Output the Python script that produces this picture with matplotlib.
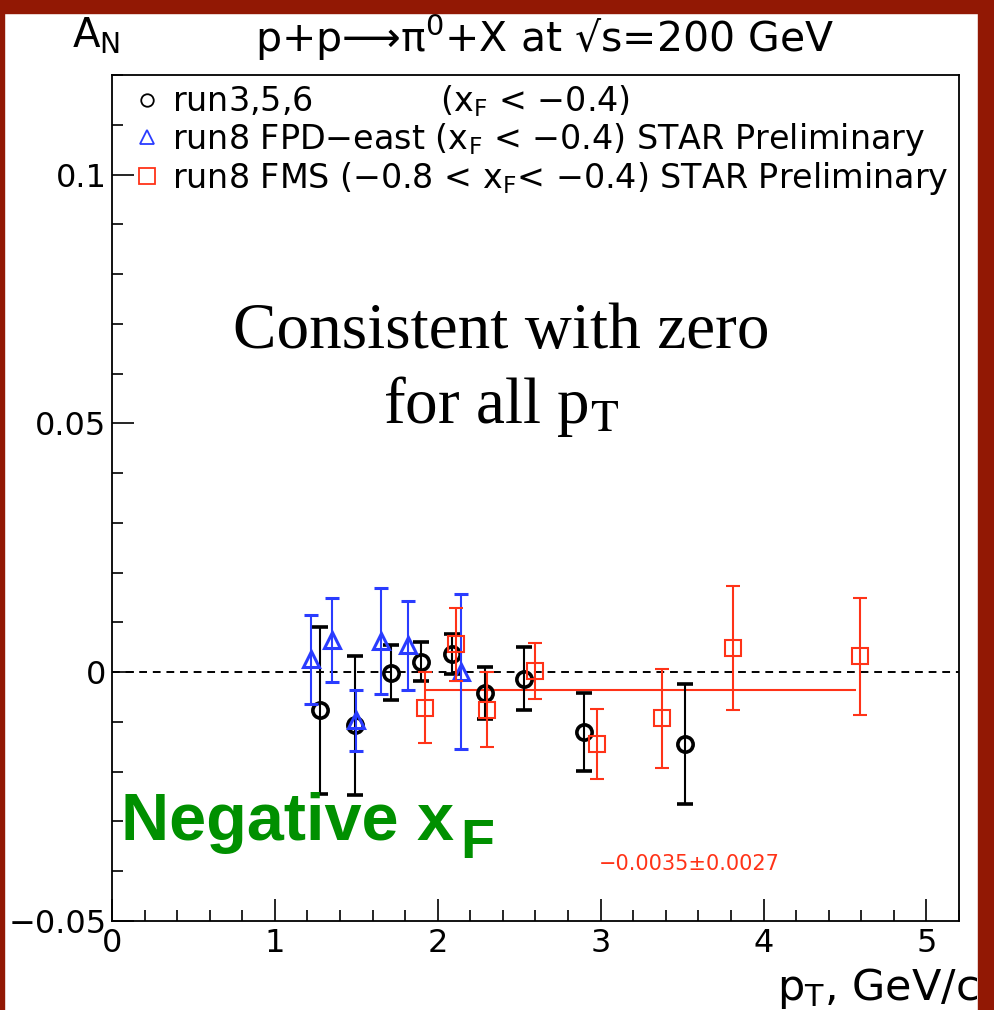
import matplotlib
matplotlib.use('Agg')
import matplotlib.pyplot as plt
from matplotlib.lines import Line2D
from matplotlib.patches import Rectangle
from matplotlib.ticker import MultipleLocator, FixedLocator

# run3,5,6 (x_F < -0.4)
pt_run356 = [1.28, 1.49, 1.71, 1.90, 2.09, 2.29, 2.53, 2.90, 3.52]
an_run356 = [-0.0077, -0.0107, -0.0001, 0.0021, 0.0036, -0.0042, -0.0013, -0.0120, -0.0144]
err_run356 = [0.0168, 0.0139, 0.0055, 0.0039, 0.0040, 0.0053, 0.0064, 0.0078, 0.0120]

# run8 FPD-east (x_F < -0.4)
pt_fpd = [1.22, 1.35, 1.495, 1.65, 1.82, 2.14]
an_fpd = [0.0026, 0.0065, -0.0097, 0.0063, 0.0054, 0.0001]
err_fpd = [0.0089, 0.0085, 0.0061, 0.0106, 0.0090, 0.0156]

# run8 FMS (-0.8 < x_F < -0.4)
pt_fms = [1.92, 2.11, 2.30, 2.595, 2.98, 3.376, 3.81, 4.59]
an_fms = [-0.0071, 0.0056, -0.0075, 0.0002, -0.0144, -0.0093, 0.0048, 0.0032]
err_fms = [0.0071, 0.0073, 0.0075, 0.0056, 0.0070, 0.0099, 0.0125, 0.0118]

# constant fit to FMS points
fit_value = -0.0035
fit_error = 0.0027
fit_range = [1.92, 4.57]

labels = ["run3,5,6            (x$_\\mathrm{F}$ < \u22120.4)",
          "run8 FPD\u2212east (x$_\\mathrm{F}$ < \u22120.4) STAR Preliminary",
          "run8 FMS (\u22120.8 < x$_\\mathrm{F}$< \u22120.4) STAR Preliminary"]

xticks = [0, 1, 2, 3, 4, 5]
yticks = [-0.05, 0, 0.05, 0.1]
yticklabels = ["\u22120.05", "0", "0.05", "0.1"]

black = "black"
blue = "#2a3cff"
red = "#ff3318"
green = "#009000"
border = "#921804"

plt.rcParams['font.family'] = ['DejaVu Sans']
plt.rcParams['mathtext.fontset'] = 'dejavusans'

fig = plt.figure(figsize=(9.95, 10.1), dpi=100)
ax = fig.add_axes([112/995, 89/1010, 847/995, 846/1010])

ax.axhline(0, color="black", ls=(0, (4, 3)), lw=1.4, zorder=1)
ax.hlines(fit_value, fit_range[0], fit_range[1], color=red, lw=1.5, zorder=2)

ax.errorbar(pt_run356, an_run356, yerr=err_run356, fmt='o', mfc='none', mec=black,
            ecolor=black, ms=11, mew=2.6, elinewidth=1.5, capsize=6, capthick=1.5, zorder=3)
ax.errorbar(pt_fpd, an_fpd, yerr=err_fpd, fmt='^', mfc='none', mec=blue,
            ecolor=blue, ms=12, mew=2.2, elinewidth=1.5, capsize=5, capthick=1.5, zorder=4)
ax.errorbar(pt_fms, an_fms, yerr=err_fms, fmt='s', mfc='none', mec=red,
            ecolor=red, ms=11, mew=1.5, elinewidth=1.5, capsize=5, capthick=1.5, zorder=5)

ax.set_xlim(0, 5.2)
ax.set_ylim(-0.05, 0.12)
ax.xaxis.set_major_locator(FixedLocator(xticks))
ax.set_xticklabels([str(v) for v in xticks])
ax.xaxis.set_minor_locator(MultipleLocator(0.2))
ax.yaxis.set_major_locator(FixedLocator(yticks))
ax.set_yticklabels(yticklabels)
ax.yaxis.set_minor_locator(MultipleLocator(0.01))
ax.tick_params(which='major', direction='in', length=16, width=1.2, labelsize=23,
               top=False, right=False)
ax.tick_params(axis='x', which='major', pad=5)
ax.tick_params(axis='y', which='major', pad=4)
ax.tick_params(which='minor', direction='in', length=8, width=1.2, top=False, right=False)
for s in ax.spines.values():
    s.set_linewidth(1.3)

handles = [Line2D([], [], ls='none', marker='o', mfc='none', mec=black, ms=9, mew=1.3),
           Line2D([], [], ls='none', marker='^', mfc='none', mec=blue, ms=10, mew=1.3),
           Line2D([], [], ls='none', marker='s', mfc='none', mec=red, ms=12, mew=1.3)]
ax.legend(handles, labels, loc='upper left', bbox_to_anchor=(0.0295, 0.99), frameon=False,
          fontsize=24, handlelength=0.6, handletextpad=0.45, labelspacing=0.06,
          borderaxespad=0, borderpad=0)

ax.text(0.459, 0.677, "Consistent with zero", transform=ax.transAxes, ha='center',
        va='baseline', fontsize=47, family='Liberation Serif')
ax.text(0.459, 0.589, "for all p$_\\mathrm{T}$", transform=ax.transAxes, ha='center',
        va='baseline', fontsize=47, family='Liberation Serif', math_fontfamily='stix')
ax.text(0.011, 0.0957, "Negative x", transform=ax.transAxes, ha='left',
        va='baseline', fontsize=48, fontweight='bold', color=green, family='Liberation Sans')
ax.text(0.411, 0.0745, "F", transform=ax.transAxes, ha='left',
        va='baseline', fontsize=40, fontweight='bold', color=green, family='Liberation Sans')
ax.text(fit_range[0] + 1.07, -0.0385, "\u22120.0035\u00b10.0027", ha='left', va='center',
        fontsize=15, color=red)

fig.text(545/995, 1 - 52/1010, "p+p\u27f6\u03c0$^{0}$+X at \u221as=200 GeV", ha='center',
         va='baseline', fontsize=29.5)
fig.text(72/995, 1 - 47/1010, "A$_\\mathrm{N}$", ha='left', va='baseline', fontsize=29)
fig.text(978/995, 1 - 1000/1010, "p$_\\mathrm{T}$, GeV/c", ha='right', va='baseline',
         fontsize=31)

# dark red slide border
fig.patches.append(Rectangle((0, 1 - 13/1010), 1, 13/1010, transform=fig.transFigure,
                             color=border, zorder=10))
fig.patches.append(Rectangle((0, 0), 4/995, 1, transform=fig.transFigure,
                             color=border, zorder=10))
fig.patches.append(Rectangle((978/995, 0), 17/995, 1, transform=fig.transFigure,
                             color=border, zorder=10))

fig.savefig("out.png", dpi=100)
